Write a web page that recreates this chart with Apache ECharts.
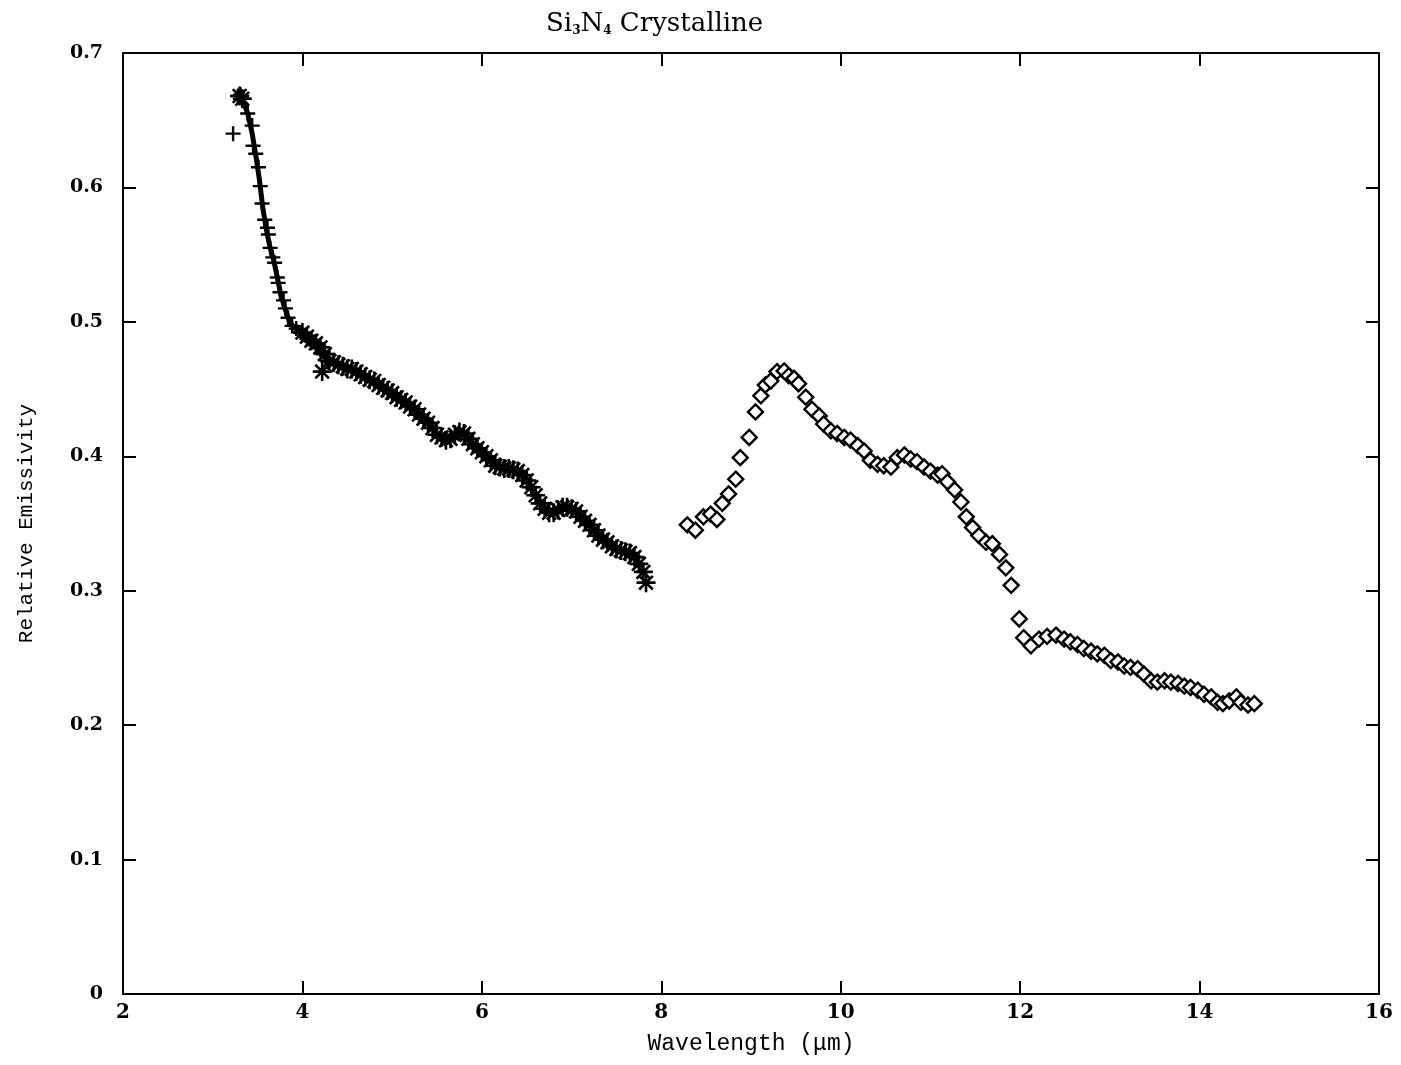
<!DOCTYPE html>
<html>
<head>
<meta charset="utf-8">
<script src="https://cdn.jsdelivr.net/npm/echarts@6/dist/echarts.min.js"></script>
<style>html,body{margin:0;padding:0;background:#fff}#chart{width:1401px;height:1065px}</style>
</head>
<body>
<div id="chart"></div>
<script>
// ---- data ----
var xTicks = [2, 4, 6, 8, 10, 12, 14, 16];
var yTicks = [0, 0.1, 0.2, 0.3, 0.4, 0.5, 0.6, 0.7];

var plusX = [3.227, 3.28, 3.31, 3.34, 3.39, 3.44, 3.45, 3.48, 3.51, 3.53, 3.55, 3.58, 3.61, 3.62, 3.64, 3.67, 3.69, 3.72, 3.73, 3.75, 3.79, 3.81, 3.84, 3.885, 3.93, 3.98, 4.03, 4.08, 4.13, 4.18, 4.23, 4.28];
var plusY = [0.640, 0.668, 0.669, 0.666, 0.655, 0.646, 0.631, 0.625, 0.615, 0.601, 0.588, 0.576, 0.570, 0.565, 0.555, 0.548, 0.544, 0.533, 0.529, 0.522, 0.516, 0.510, 0.503, 0.497, 0.495, 0.492, 0.490, 0.487, 0.485, 0.482, 0.478, 0.473];

var traceX = [3.29, 3.34, 3.39, 3.44, 3.48, 3.52, 3.56, 3.60, 3.64, 3.68, 3.72, 3.76, 3.80, 3.85, 3.90, 3.95, 4.00, 4.10, 4.20, 4.30];
var traceY = [0.668, 0.664, 0.655, 0.640, 0.624, 0.606, 0.584, 0.568, 0.555, 0.546, 0.533, 0.520, 0.511, 0.501, 0.496, 0.494, 0.492, 0.486, 0.481, 0.471];

var starX = [3.30, 3.33, 4.22, 4.00, 4.05, 4.10, 4.15, 4.20, 4.25, 4.30, 4.35, 4.40, 4.45, 4.50, 4.55, 4.60, 4.65, 4.70, 4.75, 4.80, 4.85, 4.90, 4.95, 5.00, 5.05, 5.10, 5.15, 5.20, 5.25, 5.30, 5.35, 5.40, 5.45, 5.50, 5.55, 5.60, 5.65, 5.70, 5.75, 5.80, 5.85, 5.90, 5.95, 6.00, 6.05, 6.10, 6.15, 6.20, 6.25, 6.30, 6.35, 6.40, 6.45, 6.50, 6.55, 6.60, 6.65, 6.70, 6.75, 6.80, 6.85, 6.90, 6.95, 7.00, 7.05, 7.10, 7.15, 7.20, 7.25, 7.30, 7.35, 7.40, 7.45, 7.50, 7.55, 7.60, 7.65, 7.70, 7.75, 7.80, 7.83];
var starY = [0.668, 0.666, 0.463, 0.492, 0.489, 0.486, 0.484, 0.481, 0.476, 0.471, 0.470, 0.468, 0.467, 0.465, 0.465, 0.463, 0.461, 0.459, 0.457, 0.456, 0.453, 0.451, 0.449, 0.447, 0.444, 0.442, 0.440, 0.437, 0.435, 0.431, 0.428, 0.425, 0.421, 0.416, 0.414, 0.412, 0.413, 0.416, 0.418, 0.417, 0.413, 0.409, 0.406, 0.403, 0.400, 0.397, 0.393, 0.392, 0.391, 0.391, 0.390, 0.389, 0.386, 0.382, 0.377, 0.371, 0.365, 0.361, 0.358, 0.358, 0.360, 0.362, 0.362, 0.361, 0.359, 0.355, 0.352, 0.349, 0.345, 0.341, 0.338, 0.336, 0.333, 0.331, 0.330, 0.329, 0.328, 0.325, 0.320, 0.314, 0.306];

var diamondX = [8.29, 8.38, 8.47, 8.55, 8.62, 8.68, 8.75, 8.83, 8.88, 8.98, 9.05, 9.11, 9.16, 9.22, 9.29, 9.37, 9.42, 9.48, 9.53, 9.61, 9.68, 9.76, 9.81, 9.89, 9.96, 10.04, 10.11, 10.19, 10.26, 10.33, 10.41, 10.48, 10.56, 10.63, 10.71, 10.78, 10.85, 10.93, 11.00, 11.08, 11.13, 11.19, 11.27, 11.34, 11.40, 11.47, 11.54, 11.62, 11.69, 11.77, 11.84, 11.90, 11.99, 12.04, 12.12, 12.21, 12.30, 12.40, 12.49, 12.56, 12.64, 12.71, 12.79, 12.86, 12.94, 13.01, 13.09, 13.16, 13.23, 13.31, 13.38, 13.46, 13.53, 13.61, 13.68, 13.76, 13.83, 13.90, 13.98, 14.05, 14.13, 14.20, 14.26, 14.33, 14.41, 14.46, 14.54, 14.61];
var diamondY = [0.349, 0.345, 0.355, 0.357, 0.353, 0.365, 0.372, 0.383, 0.399, 0.414, 0.433, 0.445, 0.453, 0.456, 0.463, 0.4635, 0.460, 0.458, 0.454, 0.444, 0.435, 0.430, 0.424, 0.419, 0.417, 0.414, 0.412, 0.408, 0.404, 0.397, 0.394, 0.393, 0.392, 0.399, 0.401, 0.398, 0.396, 0.392, 0.389, 0.386, 0.387, 0.381, 0.375, 0.366, 0.355, 0.347, 0.341, 0.336, 0.335, 0.327, 0.317, 0.304, 0.279, 0.265, 0.259, 0.264, 0.266, 0.267, 0.264, 0.262, 0.260, 0.257, 0.255, 0.253, 0.252, 0.248, 0.247, 0.244, 0.243, 0.242, 0.238, 0.233, 0.232, 0.233, 0.232, 0.231, 0.229, 0.228, 0.226, 0.223, 0.221, 0.217, 0.216, 0.218, 0.221, 0.217, 0.215, 0.216];

function zip(a, b) { return a.map(function (v, i) { return [v, b[i]]; }); }

var PLUS = 'path://M0,-1L0,1M-1,0L1,0';
var STAR = 'path://M0,-1L0,1M-1,0L1,0M-0.72,-0.72L0.72,0.72M-0.72,0.72L0.72,-0.72';
var serif = 'DejaVu Serif';
var mono = 'Liberation Mono';

var chart = echarts.init(document.getElementById('chart'), null, {renderer: 'canvas'});

function axisCommon(extra) {
  var o = {
    type: 'value',
    axisLine: {show: true, onZero: false, lineStyle: {color: '#000', width: 2}},
    axisTick: {show: true, inside: true, length: 13, lineStyle: {color: '#000', width: 2}},
    splitLine: {show: false}
  };
  for (var k in extra) o[k] = extra[k];
  return o;
}

chart.setOption({
  backgroundColor: '#fff',
  animation: false,
  title: {
    text: '{a|Si}{s|3}{a|N}{s|4}{a| Crystalline}',
    left: 541, top: 0,
    textStyle: {
      fontWeight: 'normal',
      rich: {
        a: {fontFamily: serif, fontSize: 26, fontWeight: 'normal', color: '#000', lineHeight: 32, verticalAlign: 'bottom'},
        s: {fontFamily: serif, fontSize: 12, fontWeight: 'bold', color: '#000', lineHeight: 13, verticalAlign: 'bottom'}
      }
    }
  },
  grid: {left: 123, right: 22, top: 53, bottom: 71, containLabel: false},
  xAxis: [
    axisCommon({
      min: xTicks[0], max: xTicks[xTicks.length - 1], interval: 2, position: 'bottom',
      name: 'Wavelength (\u03bcm)', nameLocation: 'middle', nameGap: 38,
      nameTextStyle: {fontFamily: mono, fontSize: 23, color: '#000'},
      axisLabel: {margin: 9, fontFamily: serif, fontSize: 20, fontWeight: 'bold', color: '#000'}
    }),
    axisCommon({
      min: xTicks[0], max: xTicks[xTicks.length - 1], interval: 2, position: 'top',
      axisLabel: {show: false}
    })
  ],
  yAxis: [
    axisCommon({
      min: yTicks[0], max: yTicks[yTicks.length - 1], interval: 0.1, position: 'left',
      name: 'Relative Emissivity', nameLocation: 'middle', nameGap: 86,
      nameTextStyle: {fontFamily: mono, fontSize: 21, color: '#000'},
      axisLabel: {margin: 20, fontFamily: serif, fontSize: 19, fontWeight: 'bold', color: '#000',
        formatter: function (v) { return v === 0 ? '0' : v.toFixed(1); }}
    }),
    axisCommon({
      min: yTicks[0], max: yTicks[yTicks.length - 1], interval: 0.1, position: 'right',
      axisLabel: {show: false}
    })
  ],
  series: [
    {
      type: 'line', data: zip(traceX, traceY), showSymbol: false, symbol: 'none',
      lineStyle: {color: '#000', width: 5}, z: 2
    },
    {
      type: 'scatter', data: zip(plusX, plusY), symbol: PLUS, symbolSize: 15,
      itemStyle: {color: 'rgba(0,0,0,0)', borderColor: '#000', borderWidth: 2.4, opacity: 1}, z: 3
    },
    {
      type: 'scatter', data: zip(starX, starY), symbol: STAR, symbolSize: 19,
      itemStyle: {color: 'rgba(0,0,0,0)', borderColor: '#000', borderWidth: 2.6, opacity: 1}, z: 3
    },
    {
      type: 'scatter', data: zip(diamondX, diamondY), symbol: 'diamond', symbolSize: 15,
      itemStyle: {color: '#fff', borderColor: '#000', borderWidth: 2.4, opacity: 1}, z: 4
    }
  ]
});
</script>
</body>
</html>
